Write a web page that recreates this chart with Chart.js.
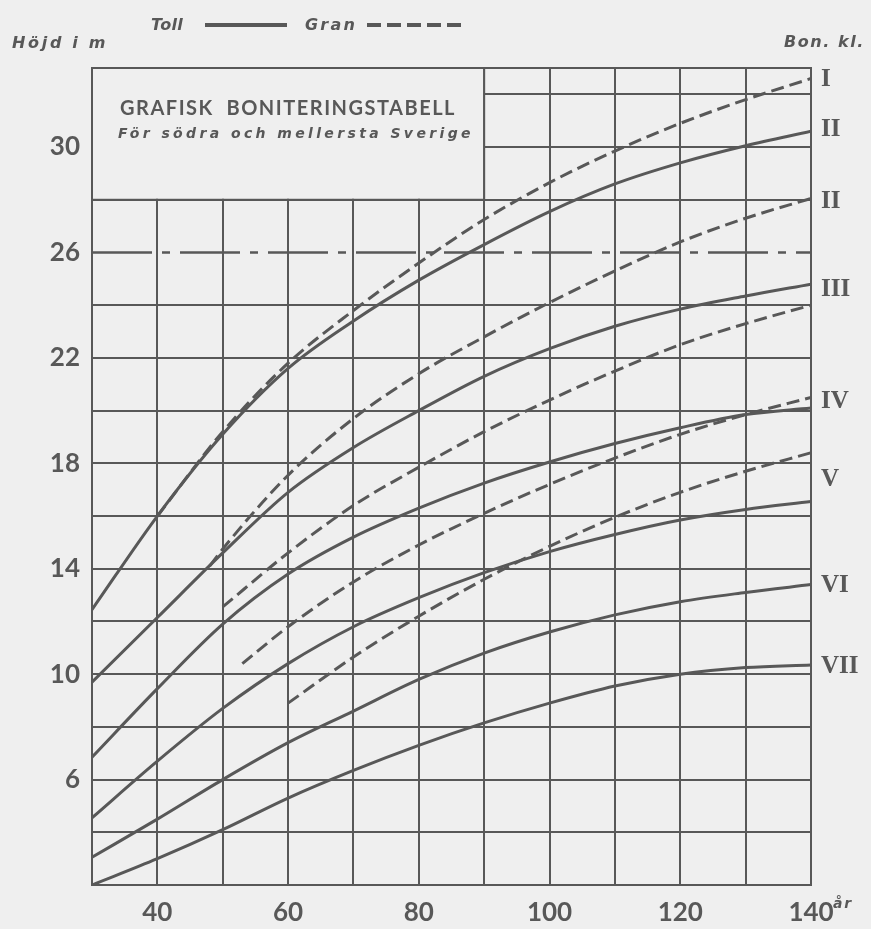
<!DOCTYPE html>
<html lang="sv">
<head>
<meta charset="utf-8">
<title>Grafisk boniteringstabell</title>
<script src="https://cdn.jsdelivr.net/npm/chart.js@4.4.1/dist/chart.umd.min.js"></script>
<style>
    html, body { margin: 0; padding: 0; background: #efefef; }
    #wrap { position: relative; width: 871px; height: 929px; }
</style>
</head>
<body>
<div id="wrap"><canvas id="bonChart"></canvas></div>
<script>
// ----------------------
//  DATA
// ----------------------

//  TALL (Toll), solid curves
const tollAges = [30, 40, 50, 60, 70, 80, 90, 100, 110, 120, 130, 140];
const toll1 = [12.45, 16.0, 19.1, 21.6, 23.4, 24.95, 26.3, 27.55, 28.6, 29.4, 30.05, 30.6];
const toll2 = [9.7, 12.15, 14.6, 16.9, 18.6, 20.0, 21.3, 22.35, 23.2, 23.85, 24.35, 24.8];
const toll3 = [6.85, 9.45, 11.9, 13.8, 15.2, 16.3, 17.25, 18.05, 18.75, 19.35, 19.85, 20.1];
const toll4 = [4.55, 6.7, 8.7, 10.4, 11.8, 12.9, 13.85, 14.65, 15.3, 15.85, 16.25, 16.55];
const toll5 = [3.05, 4.5, 6.0, 7.4, 8.6, 9.8, 10.8, 11.6, 12.25, 12.75, 13.1, 13.4];
const toll6 = [2.0, 3.0, 4.1, 5.3, 6.35, 7.3, 8.15, 8.9, 9.55, 10.0, 10.25, 10.35];

//  GRAN, dashed curves
const gran1Ages = [40, 50, 60, 70, 80, 90, 100, 110, 120, 130, 140];
const gran1 = [16.0, 19.2, 21.8, 23.8, 25.6, 27.25, 28.65, 29.85, 30.9, 31.8, 32.6];
const gran2Ages = [48, 50, 60, 70, 80, 90, 100, 110, 120, 130, 140];
const gran2 = [14.1, 14.75, 17.55, 19.7, 21.4, 22.8, 24.1, 25.3, 26.4, 27.3, 28.05];
const gran3Ages = [50, 60, 70, 80, 90, 100, 110, 120, 130, 140];
const gran3 = [12.55, 14.6, 16.4, 17.85, 19.2, 20.4, 21.5, 22.5, 23.3, 24.0];
const gran4Ages = [53, 60, 70, 80, 90, 100, 110, 120, 130, 140];
const gran4 = [10.4, 11.8, 13.5, 14.9, 16.1, 17.2, 18.2, 19.1, 19.85, 20.5];
const gran5Ages = [60, 70, 80, 90, 100, 110, 120, 130, 140];
const gran5 = [8.9, 10.65, 12.2, 13.6, 14.85, 15.95, 16.9, 17.7, 18.4];

//  REFERENCE LINE (dash-dot at 26 m)
const refAges = [30, 140];
const refHeights = [26, 26];

//  TICKS
const xTickLabels = [40, 60, 80, 100, 120, 140];
const yTickLabels = [6, 10, 14, 18, 22, 26, 30];

//  BONITET CLASSES (right side)
const bonLabels = ['I', 'II', 'II', 'III', 'IV', 'V', 'VI', 'VII'];
const bonHeights = [32.55, 30.65, 27.92, 24.58, 20.33, 17.37, 13.38, 10.27];

// ----------------------
//  STYLE
// ----------------------
const ink = 'rgb(88, 88, 88)';
const paper = '#efefef';
const dash = [13, 6];

function points(xs, ys) {
    return xs.map((x, i) => ({ x: x, y: ys[i] }));
}

function curve(xs, ys, dashed) {
    return {
        data: points(xs, ys),
        borderColor: ink,
        borderWidth: 3,
        borderDash: dashed ? dash : [],
        pointRadius: 0,
        fill: false,
        cubicInterpolationMode: 'monotone',
    };
}

//  TEXT SPREAD / SQUEEZED TO A WIDTH
function fitText(ctx, text, x, y, width, font) {
    ctx.save();
    ctx.font = font;
    ctx.letterSpacing = '0px';
    const natural = ctx.measureText(text).width;
    if (natural < width) {
        ctx.letterSpacing = ((width - natural) / text.length) + 'px';
        ctx.fillText(text, x, y);
    } else {
        ctx.translate(x, y);
        ctx.scale(width / natural, 1);
        ctx.fillText(text, 0, 0);
    }
    ctx.restore();
}

// ----------------------
//  PLUGIN: frame, box, texts
// ----------------------
const framePlugin = {
    id: 'frame',
    beforeDraw(chart) {
        const ctx = chart.ctx;
        ctx.save();
        ctx.fillStyle = paper;
        ctx.fillRect(0, 0, chart.width, chart.height);
        ctx.restore();
    },
    beforeDatasetsDraw(chart) {
        const { ctx, scales: { x, y } } = chart;
        const left = x.getPixelForValue(30);
        const right = x.getPixelForValue(90);
        const top = y.getPixelForValue(33);
        const bottom = y.getPixelForValue(28);
        const far = x.getPixelForValue(140);

        ctx.save();
        // title box hides the grid behind it
        ctx.fillStyle = paper;
        ctx.fillRect(left + 1, top, right - left - 2, bottom - top - 1);
        ctx.strokeStyle = ink;
        ctx.lineWidth = 2;
        ctx.strokeRect(left, top, right - left, bottom - top);
        // top frame
        ctx.beginPath();
        ctx.moveTo(left - 1, top);
        ctx.lineTo(far + 1, top);
        ctx.stroke();
        ctx.restore();
    },
    afterDraw(chart) {
        const { ctx, scales: { x, y } } = chart;
        ctx.save();
        ctx.fillStyle = ink;
        ctx.textBaseline = 'alphabetic';
        ctx.textAlign = 'left';

        const italic = 'italic bold 16px "DejaVu Sans"';
        fitText(ctx, 'Höjd i m', 12, 48, 96, italic);
        fitText(ctx, 'Toll', 151, 30, 32, italic);
        fitText(ctx, 'Gran', 305, 30, 52, italic);
        fitText(ctx, 'Bon. kl.', 784, 47, 81, italic);

        // legend samples
        ctx.strokeStyle = ink;
        ctx.lineWidth = 4;
        ctx.beginPath();
        ctx.moveTo(205, 25);
        ctx.lineTo(287, 25);
        ctx.stroke();
        ctx.setLineDash([14, 6]);
        ctx.beginPath();
        ctx.moveTo(367, 25);
        ctx.lineTo(464, 25);
        ctx.stroke();
        ctx.setLineDash([]);

        // box texts
        fitText(ctx, 'GRAFISK  BONITERINGSTABELL', 120, 115, 336, 'bold 20px Lato');
        fitText(ctx, 'För södra och mellersta Sverige', 118, 138, 356, 'italic bold 14px "DejaVu Sans"');

        // år after 140
        fitText(ctx, 'år', x.getPixelForValue(140) + 22, 908, 20, 'italic bold 14px "DejaVu Sans"');

        // bonitet class numerals
        ctx.font = 'bold 25px "Liberation Serif"';
        ctx.textBaseline = 'middle';
        bonLabels.forEach((label, i) => {
            ctx.fillText(label, x.getPixelForValue(140) + 10, y.getPixelForValue(bonHeights[i]));
        });
        ctx.restore();
    }
};

// ----------------------
//  CHART
// ----------------------
const refLine = {
    data: points(refAges, refHeights),
    borderColor: ink,
    borderWidth: 2.5,
    borderDash: [60, 10, 8, 10],
    pointRadius: 0,
    fill: false,
};

const chartData = {
    datasets: [
        refLine,
        curve(tollAges, toll1, false),
        curve(tollAges, toll2, false),
        curve(tollAges, toll3, false),
        curve(tollAges, toll4, false),
        curve(tollAges, toll5, false),
        curve(tollAges, toll6, false),
        curve(gran1Ages, gran1, true),
        curve(gran2Ages, gran2, true),
        curve(gran3Ages, gran3, true),
        curve(gran4Ages, gran4, true),
        curve(gran5Ages, gran5, true),
    ]
};

const tickFont = { family: 'Lato', size: 26, weight: 'bold' };

const options = {
    responsive: true,
    maintainAspectRatio: false,
    animation: false,
    events: [],
    layout: { padding: { top: 68, right: 60, left: 0, bottom: 0 } },
    plugins: {
        legend: { display: false },
        tooltip: { enabled: false },
    },
    scales: {
        x: {
            type: 'linear',
            min: 30,
            max: 140,
            afterFit: (scale) => { scale.height = 44; },
            grid: { color: ink, lineWidth: 2, drawTicks: false },
            border: { color: ink, width: 2 },
            ticks: {
                stepSize: 10,
                padding: 12,
                color: ink,
                font: tickFont,
                autoSkip: false,
                maxRotation: 0,
                callback: (value) => xTickLabels.includes(value) ? String(value) : '',
            },
        },
        y: {
            type: 'linear',
            min: 2,
            max: 33,
            afterFit: (scale) => { scale.width = 92; },
            grid: {
                color: (c) => (c.tick && c.tick.value === 26) ? 'rgba(0,0,0,0)' : ink,
                lineWidth: 2,
                drawTicks: false,
            },
            border: { color: ink, width: 2 },
            ticks: {
                stepSize: 2,
                includeBounds: false,
                padding: 12,
                color: ink,
                font: tickFont,
                autoSkip: false,
                callback: (value) => yTickLabels.includes(value) ? String(value) : '',
            },
        },
    },
};

const bonChart = new Chart(document.getElementById('bonChart'), {
    type: 'line',
    data: chartData,
    options: options,
    plugins: [framePlugin],
});
</script>
</body>
</html>
